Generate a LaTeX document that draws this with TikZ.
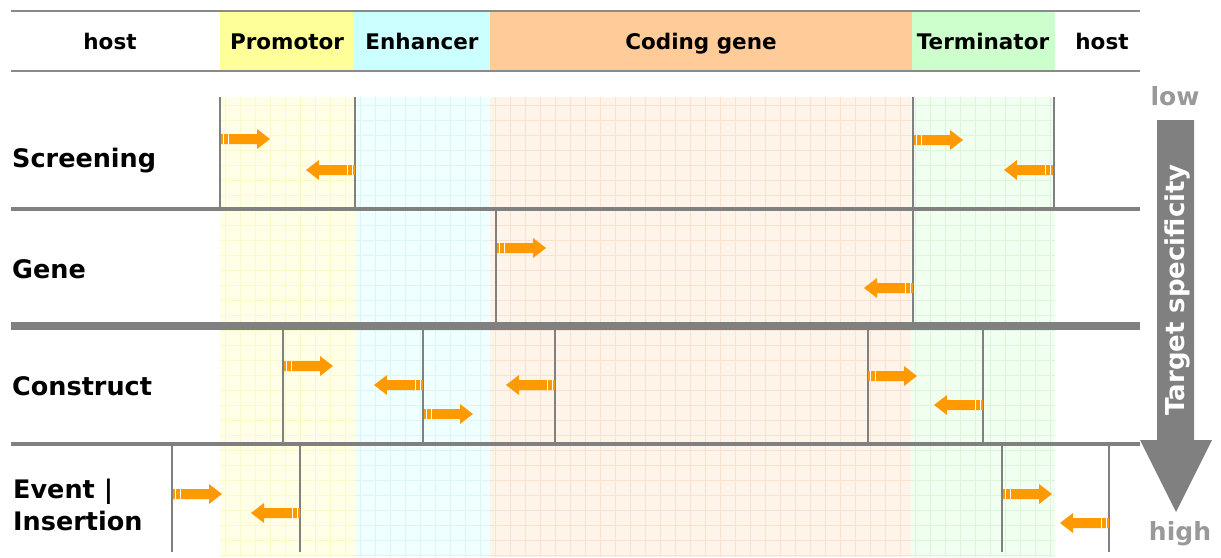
\documentclass[tikz,border=0pt]{standalone}
\usepackage{fontspec}
\setmainfont{DejaVu Sans}
\definecolor{hdgray}{HTML}{8A8A8A}
\definecolor{sepgray}{HTML}{808080}
\definecolor{arrorange}{HTML}{FF9900}
\definecolor{promo}{HTML}{FFFF99}
\definecolor{enh}{HTML}{CCFFFF}
\definecolor{cod}{HTML}{FFCC99}
\definecolor{term}{HTML}{CCFFCC}
\definecolor{promoT}{HTML}{FFFFE8}
\definecolor{promoG}{HTML}{FAFAC8}
\definecolor{enhT}{HTML}{F0FFFF}
\definecolor{enhG}{HTML}{DCF6F6}
\definecolor{codT}{HTML}{FFF4EA}
\definecolor{codG}{HTML}{FCE2CC}
\definecolor{termT}{HTML}{F0FFF0}
\definecolor{termG}{HTML}{DCF6DC}
\definecolor{lowgray}{HTML}{999999}
\begin{document}
\begin{tikzpicture}[x=1pt,y=-1pt,
  hdtext/.style={font=\fontsize{21.5}{25}\selectfont\bfseries, text=black, inner sep=0pt, anchor=base},
  rowlabel/.style={font=\fontsize{25.5}{32}\selectfont\bfseries, text=black, inner sep=0pt, anchor=base west, align=left},
  sidetext/.style={font=\fontsize{25}{30}\selectfont\bfseries, text=lowgray, inner sep=0pt, anchor=base},
  tick/.style={draw=sepgray, line width=1.7pt},
  hline/.style={draw=hdgray, line width=1.6pt},
  sep/.style={draw=sepgray, line width=#1},
  gridlines/.style={line width=0.6pt, xstep=15pt, ystep=15pt},
  rarrow/.pic={
    \fill[arrorange] (0,-5) -- (36,-5) -- (36,-10) -- (49,0) -- (36,10) -- (36,5) -- (0,5) -- cycle;
    \fill[white] (2.3,-5.1) rectangle (3.3,5.1);
    \fill[white] (6.6,-5.1) rectangle (7.6,5.1);
  }
]
\useasboundingbox (0,0) rectangle (1221,557);
\fill[white] (0,0) rectangle (1221,557);

% tinted columns with grid
\begin{scope}
  \clip (220,97) rectangle (356,557);
  \fill[promoT] (220,97) rectangle (356,557);
  \draw[promoG, gridlines] (220,97) grid (356,557);
\end{scope}
\begin{scope}
  \clip (356,97) rectangle (490,557);
  \fill[enhT] (356,97) rectangle (490,557);
  \draw[enhG, gridlines] (356,97) grid (490,557);
\end{scope}
\begin{scope}
  \clip (490,97) rectangle (911,557);
  \fill[codT] (490,97) rectangle (911,557);
  \draw[codG, gridlines] (490,97) grid (911,557);
\end{scope}
\begin{scope}
  \clip (911,97) rectangle (1055,557);
  \fill[termT] (911,97) rectangle (1055,557);
  \draw[termG, gridlines] (911,97) grid (1055,557);
\end{scope}

% header
\fill[promo] (220,12) rectangle (353,70);
\fill[enh] (353,12) rectangle (490,70);
\fill[cod] (490,12) rectangle (912,70);
\fill[term] (912,12) rectangle (1055,70);
\draw[hline] (11,11) -- (1140,11);
\draw[hline] (11,71) -- (1140,71);
\node[hdtext] (h1) at (110,49) {host};
\node[hdtext] (h2) at (287,49) {Promotor};
\node[hdtext] (h3) at (422,49) {Enhancer};
\node[hdtext] (h4) at (701,49) {Coding gene};
\node[hdtext] (h5) at (983,49) {Terminator};
\node[hdtext] (h6) at (1102,49) {host};

% row labels
\node[rowlabel] (r1) at (12,167) {Screening};
\node[rowlabel] (r2) at (12,278) {Gene};
\node[rowlabel] (r3) at (12,395) {Construct};
\node[rowlabel] (r4a) at (13,498) {Event |};
\node[rowlabel] (r4b) at (13,530) {Insertion};

% row 1
\draw[tick] (220,97) -- (220,207);
\draw[tick] (355,97) -- (355,207);
\draw[tick] (913,97) -- (913,207);
\draw[tick] (1054,97) -- (1054,207);
\pic at (221,139) {rarrow};
\pic[xscale=-1] at (355,170) {rarrow};
\pic at (914,140) {rarrow};
\pic[xscale=-1] at (1053,170) {rarrow};

% row 2
\draw[tick] (496,211) -- (496,322);
\draw[tick] (913,211) -- (913,322);
\pic at (497,248) {rarrow};
\pic[xscale=-1] at (913,288) {rarrow};

% row 3
\draw[tick] (283,330) -- (283,442);
\draw[tick] (423,330) -- (423,442);
\draw[tick] (555,330) -- (555,442);
\draw[tick] (868,330) -- (868,442);
\draw[tick] (983,330) -- (983,442);
\pic at (284,366) {rarrow};
\pic[xscale=-1] at (423,385) {rarrow};
\pic at (424,414) {rarrow};
\pic[xscale=-1] at (555,385) {rarrow};
\pic at (868,376) {rarrow};
\pic[xscale=-1] at (983,405) {rarrow};

% row 4
\draw[tick] (172,446) -- (172,552);
\draw[tick] (300,446) -- (300,552);
\draw[tick] (1002,446) -- (1002,552);
\draw[tick] (1109,446) -- (1109,552);
\pic at (173,494) {rarrow};
\pic[xscale=-1] at (300,513) {rarrow};
\pic at (1003,494) {rarrow};
\pic[xscale=-1] at (1109,523) {rarrow};

% separators
\draw[sep=4.5pt] (11,209) -- (1140,209);
\draw[sep=8pt] (11,326) -- (1140,326);
\draw[sep=4.5pt] (11,444) -- (1140,444);

% specificity arrow
\fill[sepgray] (1157,120) -- (1194,120) -- (1194,440) -- (1212,440) -- (1176,512) -- (1140,440) -- (1157,440) -- cycle;
\node[font=\fontsize{26}{30}\selectfont\bfseries, text=white, rotate=90, inner sep=0pt] (ts) at (1177,290) {Target specificity};
\node[sidetext] (low) at (1175,105) {low};
\node[sidetext] (high) at (1180,540) {high};
\end{tikzpicture}
\end{document}
